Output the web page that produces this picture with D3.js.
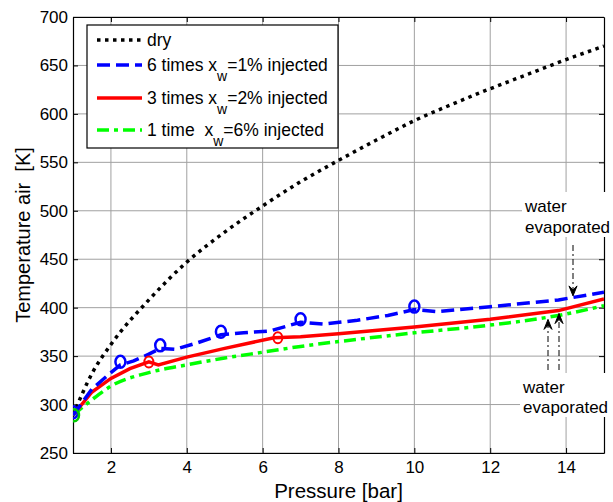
<!DOCTYPE html>
<html>
<head>
<meta charset="utf-8">
<script src="https://cdn.jsdelivr.net/npm/d3@7"></script>
<style>
  body { margin: 0; background: #fff; }
  text { font-family: "Liberation Sans", Arial, sans-serif; }
  .grid line { stroke: #a0a0a0; stroke-width: 1; }
</style>
</head>
<body>
<div id="chart"></div>
<script>
// dry compression
var dryP = [1, 1.5, 2, 3, 4, 5, 6, 7, 8, 9, 10, 11, 12, 13, 14, 15];
var dryT = [289, 332, 362, 408, 447, 478, 505, 530, 552, 573, 593, 610, 626, 641, 656, 670];

// 6 times xw=1%
var blueP = [1, 1.5, 2.0, 2.25, 2.6, 3.0, 3.3, 3.7, 4.3, 4.9, 5.5, 6.2, 7.0, 7.6, 8.5, 9.3, 10.0, 10.6, 12, 13.8, 15];
var blueT = [289, 316, 333, 341, 345, 352, 358, 357, 364, 372, 374, 376, 385, 383, 387, 392, 398, 396, 401, 408, 416];
var blueMarkP = [1, 2.25, 3.3, 4.9, 7.0, 10.0];
var blueMarkT = [289, 341, 358, 372, 385, 398];

// 3 times xw=2%
var redP = [1, 1.5, 2, 2.5, 3.0, 3.25, 4, 5, 6.3, 7, 8, 10, 12, 13.8, 15];
var redT = [289, 313, 327, 337, 344, 341, 349, 358, 369, 370, 373, 380, 388, 397, 409];
var redMarkP = [3.0, 6.4];
var redMarkT = [344, 369];

// 1 time xw=6%
var greenP = [1, 1.5, 2, 3, 4, 5, 6, 7, 8, 10, 12, 13.8, 15];
var greenT = [289, 305, 319, 333, 341, 348, 354, 360, 365, 374, 382, 392, 402];

var xTicks = [2, 4, 6, 8, 10, 12, 14];
var yTicks = [250, 300, 350, 400, 450, 500, 550, 600, 650, 700];

var W = 613, H = 502;
var margin = { left: 73, right: 9, top: 17, bottom: 49 };

var svg = d3.select("#chart").append("svg")
    .attr("width", W)
    .attr("height", H);

var x = d3.scaleLinear().domain([1, 15]).range([margin.left, W - margin.right]);
var y = d3.scaleLinear().domain([250, 700]).range([H - margin.bottom, margin.top]);

svg.append("defs").append("clipPath").attr("id", "clip")
    .append("rect")
    .attr("x", x(1)).attr("y", y(700))
    .attr("width", x(15) - x(1)).attr("height", y(250) - y(700));

// grid
var grid = svg.append("g").attr("class", "grid");
grid.selectAll(".gx").data(xTicks).enter().append("line")
    .attr("x1", d => x(d)).attr("x2", d => x(d))
    .attr("y1", y(250)).attr("y2", y(700));
grid.selectAll(".gy").data(yTicks).enter().append("line")
    .attr("x1", x(1)).attr("x2", x(15))
    .attr("y1", d => y(d)).attr("y2", d => y(d));

// axes (MATLAB style, ticks inside)
var tk = 5;
var xAxis = svg.append("g").attr("transform", "translate(0," + y(250) + ")")
    .call(d3.axisBottom(x).tickValues(xTicks).tickSizeInner(-tk).tickSizeOuter(0).tickPadding(8));
var yAxis = svg.append("g").attr("transform", "translate(" + x(1) + ",0)")
    .call(d3.axisLeft(y).tickValues(yTicks).tickSizeInner(-tk).tickSizeOuter(0).tickPadding(5));
svg.append("g").attr("transform", "translate(0," + y(700) + ")")
    .call(d3.axisTop(x).tickValues(xTicks).tickSizeInner(-tk).tickSizeOuter(0).tickFormat(""));
svg.append("g").attr("transform", "translate(" + x(15) + ",0)")
    .call(d3.axisRight(y).tickValues(yTicks).tickSizeInner(-tk).tickSizeOuter(0).tickFormat(""));

svg.selectAll(".domain").attr("stroke", "#000").attr("stroke-width", 1.2);
svg.selectAll(".tick line").attr("stroke", "#000");
xAxis.selectAll("text").attr("font-size", 17).attr("fill", "#000");
yAxis.selectAll("text").attr("font-size", 17).attr("fill", "#000");

// axis labels
svg.append("text")
    .attr("x", (x(1) + x(15)) / 2).attr("y", H - 4)
    .attr("text-anchor", "middle").attr("font-size", 20.5)
    .text("Pressure [bar]");
svg.append("text")
    .attr("transform", "translate(30," + ((y(250) + y(700)) / 2) + ") rotate(-90)")
    .attr("text-anchor", "middle").attr("font-size", 20)
    .attr("xml:space", "preserve")
    .text("Temperature air  [K]");

var line = d3.line().x(d => x(d[0])).y(d => y(d[1]));
var smooth = d3.line().x(d => x(d[0])).y(d => y(d[1])).curve(d3.curveMonotoneX);
var plot = svg.append("g").attr("clip-path", "url(#clip)");

function zip(a, b) { return a.map((v, i) => [v, b[i]]); }

plot.append("path").datum(zip(dryP, dryT))
    .attr("d", smooth)
    .attr("fill", "none").attr("stroke", "#000").attr("stroke-width", 3.5)
    .attr("stroke-dasharray", "3.5 4.5");

plot.append("path").datum(zip(greenP, greenT))
    .attr("d", smooth)
    .attr("fill", "none").attr("stroke", "#00ff00").attr("stroke-width", 3.5)
    .attr("stroke-dasharray", "12 5 4 5");

plot.append("path").datum(zip(redP, redT))
    .attr("d", line)
    .attr("fill", "none").attr("stroke", "#ff0000").attr("stroke-width", 3.5);

plot.append("path").datum(zip(blueP, blueT))
    .attr("d", line)
    .attr("fill", "none").attr("stroke", "#0000ff").attr("stroke-width", 3.5)
    .attr("stroke-dasharray", "13 6");

// markers
plot.selectAll(".rm").data(zip(redMarkP, redMarkT)).enter().append("ellipse")
    .attr("cx", d => x(d[0])).attr("cy", d => y(d[1]))
    .attr("rx", 4.5).attr("ry", 5.5)
    .attr("fill", "none").attr("stroke", "#ff0000").attr("stroke-width", 2);
plot.selectAll(".bm").data(zip(blueMarkP, blueMarkT)).enter().append("ellipse")
    .attr("cx", d => x(d[0])).attr("cy", d => y(d[1]) - 3)
    .attr("rx", 5).attr("ry", 6)
    .attr("fill", "none").attr("stroke", "#0000ff").attr("stroke-width", 2.5);
plot.append("ellipse")
    .attr("cx", x(1) + 1).attr("cy", y(289))
    .attr("rx", 5).attr("ry", 6)
    .attr("fill", "none").attr("stroke", "#00cc00").attr("stroke-width", 2.5);

// annotations
function arrow(x0, y0, y1) {
    svg.append("line")
        .attr("x1", x0).attr("x2", x0).attr("y1", y0).attr("y2", y1)
        .attr("stroke", "#000").attr("stroke-width", 1)
        .attr("stroke-dasharray", "6 3 2 3");
    var dir = y1 > y0 ? -1 : 1;
    svg.append("path")
        .attr("d", "M" + (x0 - 4) + "," + (y1 + dir * 10) + " L" + x0 + "," + y1 + " L" + (x0 + 4) + "," + (y1 + dir * 10) + " L" + x0 + "," + (y1 + dir * 6) + "Z")
        .attr("fill", "#000").attr("stroke", "#000").attr("stroke-width", 1);
}

var ann = svg.append("g").attr("font-size", 17);
ann.append("rect").attr("x", 522).attr("y", 192).attr("width", 91).attr("height", 45).attr("fill", "#fff");
ann.append("text").attr("x", 525).attr("y", 212).text("water");
ann.append("text").attr("x", 525).attr("y", 233).text("evaporated");
ann.append("rect").attr("x", 520).attr("y", 373).attr("width", 93).attr("height", 44).attr("fill", "#fff");
ann.append("text").attr("x", 523).attr("y", 393).text("water");
ann.append("text").attr("x", 523).attr("y", 413).text("evaporated");

arrow(573, 245, y(408) - 4);
arrow(548, 370, y(391) + 3);
arrow(559, 370, y(397) + 3);

// legend
var lg = svg.append("g").attr("transform", "translate(87,25)");
lg.append("rect").attr("width", 251).attr("height", 123)
    .attr("fill", "#fff").attr("stroke", "#000").attr("stroke-width", 1.2);
var legItems = [
    { c: "#000", dash: "3.5 4.5", lbl: "dry" },
    { c: "#0000ff", dash: "13 6", lbl: "6 times x", sub: "w", rest: "=1% injected" },
    { c: "#ff0000", dash: null, lbl: "3 times x", sub: "w", rest: "=2% injected" },
    { c: "#00ff00", dash: "12 5 4 5", lbl: "1 time  x", sub: "w", rest: "=6% injected" }
];
var rowY = [15, 40, 73, 105];
legItems.forEach(function(d, i) {
    lg.append("line")
        .attr("x1", 10).attr("x2", 55).attr("y1", rowY[i]).attr("y2", rowY[i])
        .attr("stroke", d.c).attr("stroke-width", 3.5)
        .attr("stroke-dasharray", d.dash);
    var t = lg.append("text").attr("x", 60).attr("y", rowY[i] + 6)
        .attr("font-size", 17.5).attr("xml:space", "preserve");
    t.append("tspan").text(d.lbl);
    if (d.sub) {
        t.append("tspan").attr("dy", 10).attr("font-size", 14).text(d.sub);
        t.append("tspan").attr("dy", -10).text(d.rest);
    }
});
</script>
</body>
</html>
